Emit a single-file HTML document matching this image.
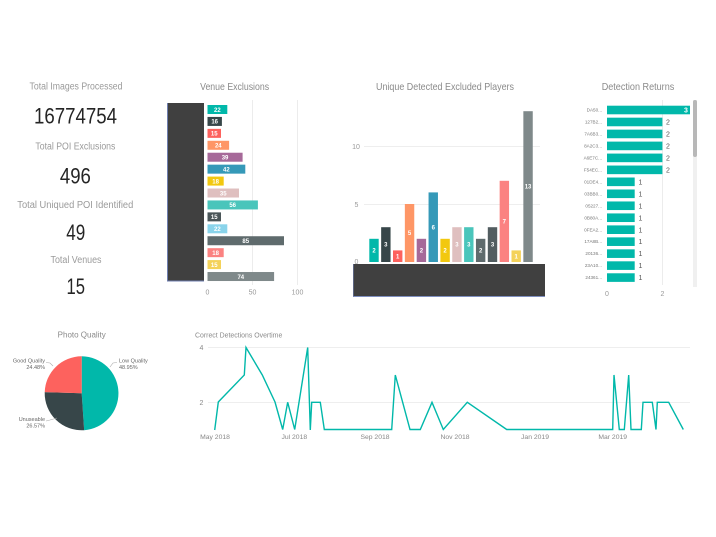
<!DOCTYPE html>
<html><head><meta charset="utf-8"><style>
html,body{margin:0;padding:0;background:#fff;}
svg{display:block;font-family:"Liberation Sans",sans-serif;}
</style></head><body>
<svg width="716" height="537" viewBox="0 0 716 537" xmlns="http://www.w3.org/2000/svg">
<rect width="716" height="537" fill="#fff"/>

<!-- KPI cards -->
<g fill="#9a9a9a" font-size="10" text-anchor="middle">
<text x="76" y="89.5" textLength="93" lengthAdjust="spacingAndGlyphs">Total Images Processed</text>
<text x="75.4" y="149.5" textLength="80" lengthAdjust="spacingAndGlyphs">Total POI Exclusions</text>
<text x="75.3" y="208" textLength="116" lengthAdjust="spacingAndGlyphs">Total Uniqued POI Identified</text>
<text x="76" y="263" textLength="51" lengthAdjust="spacingAndGlyphs">Total Venues</text>
</g>
<g fill="#252525" font-size="22" text-anchor="middle">
<text x="75.5" y="123.5" textLength="83" lengthAdjust="spacingAndGlyphs">16774754</text>
<text x="75.4" y="183.3" textLength="31" lengthAdjust="spacingAndGlyphs">496</text>
<text x="75.8" y="240" textLength="19" lengthAdjust="spacingAndGlyphs">49</text>
<text x="75.8" y="294" textLength="18.5" lengthAdjust="spacingAndGlyphs">15</text>
</g>

<!-- Titles -->
<g fill="#8a8a8a" font-size="10.5" text-anchor="middle">
<text x="234.6" y="90" textLength="69" lengthAdjust="spacingAndGlyphs">Venue Exclusions</text>
<text x="445" y="90" textLength="138" lengthAdjust="spacingAndGlyphs">Unique Detected Excluded Players</text>
<text x="638" y="90" textLength="72.6" lengthAdjust="spacingAndGlyphs">Detection Returns</text>
</g>

<!-- Venue Exclusions -->
<g stroke="#ececec" stroke-width="1">
<line x1="252.5" y1="100" x2="252.5" y2="285"/>
<line x1="297.5" y1="100" x2="297.5" y2="285"/>
</g>
<rect x="167" y="103" width="37" height="178" fill="#404040"/>
<line x1="167.5" y1="103" x2="167.5" y2="281" stroke="#6f7fb0" stroke-width="1"/>
<line x1="167" y1="281" x2="204" y2="281" stroke="#6f7fb0" stroke-width="1"/>
<g>
<rect x="207.5" y="105" width="19.8" height="9" fill="#01B8AA"/>
<rect x="207.5" y="116.93" width="14.4" height="9" fill="#374649"/>
<rect x="207.5" y="128.86" width="13.5" height="9" fill="#FD625E"/>
<rect x="207.5" y="140.79" width="21.6" height="9" fill="#FE9666"/>
<rect x="207.5" y="152.72" width="35.1" height="9" fill="#A66999"/>
<rect x="207.5" y="164.65" width="37.8" height="9" fill="#3599B8"/>
<rect x="207.5" y="176.58" width="16.2" height="9" fill="#F2C80F"/>
<rect x="207.5" y="188.51" width="31.5" height="9" fill="#DFBFBF"/>
<rect x="207.5" y="200.44" width="50.4" height="9" fill="#4AC5BB"/>
<rect x="207.5" y="212.37" width="13.5" height="9" fill="#4A5558"/>
<rect x="207.5" y="224.3" width="19.8" height="9" fill="#8AD4EB"/>
<rect x="207.5" y="236.23" width="76.5" height="9" fill="#5F6B6D"/>
<rect x="207.5" y="248.16" width="16.2" height="9" fill="#FB8281"/>
<rect x="207.5" y="260.09" width="13.5" height="9" fill="#F4D25A"/>
<rect x="207.5" y="272.02" width="66.6" height="9" fill="#7F898A"/>
</g>
<g fill="#fff" font-size="6" font-weight="bold" text-anchor="middle">
<text x="217.4" y="111.8">22</text>
<text x="214.7" y="123.7">16</text>
<text x="214.25" y="135.6">15</text>
<text x="218.3" y="147.6">24</text>
<text x="225.05" y="159.5">39</text>
<text x="226.4" y="171.4">42</text>
<text x="215.6" y="183.4">18</text>
<text x="223.25" y="195.3">35</text>
<text x="232.7" y="207.2">56</text>
<text x="214.25" y="219.2">15</text>
<text x="217.4" y="231.1">22</text>
<text x="245.75" y="243">85</text>
<text x="215.6" y="254.9">18</text>
<text x="214.25" y="266.9">15</text>
<text x="240.8" y="278.8">74</text>
</g>
<g fill="#999" font-size="7" text-anchor="middle">
<text x="207.5" y="294.5">0</text>
<text x="252.5" y="294.5">50</text>
<text x="297.5" y="294.5">100</text>
</g>

<!-- Unique Detected Excluded Players -->
<g stroke="#eeeeee" stroke-width="1">
<line x1="364" y1="146.5" x2="540" y2="146.5"/>
<line x1="364" y1="204.5" x2="540" y2="204.5"/>
</g>
<g fill="#999" font-size="7" text-anchor="middle">
<text x="356" y="149">10</text>
<text x="356.5" y="207">5</text>
<text x="356.5" y="264">0</text>
</g>
<g>
<rect x="369.3" y="238.8" width="9.4" height="23.2" fill="#01B8AA"/>
<rect x="381.15" y="227.2" width="9.4" height="34.8" fill="#374649"/>
<rect x="393" y="250.4" width="9.4" height="11.6" fill="#FD625E"/>
<rect x="404.85" y="204" width="9.4" height="58" fill="#FE9666"/>
<rect x="416.7" y="238.8" width="9.4" height="23.2" fill="#A66999"/>
<rect x="428.55" y="192.4" width="9.4" height="69.6" fill="#3599B8"/>
<rect x="440.4" y="238.8" width="9.4" height="23.2" fill="#F2C80F"/>
<rect x="452.25" y="227.2" width="9.4" height="34.8" fill="#DFBFBF"/>
<rect x="464.1" y="227.2" width="9.4" height="34.8" fill="#4AC5BB"/>
<rect x="475.95" y="238.8" width="9.4" height="23.2" fill="#5F6B6D"/>
<rect x="487.8" y="227.2" width="9.4" height="34.8" fill="#525d60"/>
<rect x="499.65" y="180.8" width="9.4" height="81.2" fill="#FB8281"/>
<rect x="511.5" y="250.4" width="9.4" height="11.6" fill="#F4D25A"/>
<rect x="523.35" y="111.2" width="9.4" height="150.8" fill="#7F898A"/>
</g>
<g fill="#fff" font-size="6" font-weight="bold" text-anchor="middle">
<text x="374" y="252.5">2</text>
<text x="385.85" y="246.7">3</text>
<text x="397.7" y="258.3">1</text>
<text x="409.55" y="235.1">5</text>
<text x="421.4" y="252.5">2</text>
<text x="433.25" y="229.3">6</text>
<text x="445.1" y="252.5">2</text>
<text x="456.95" y="246.7">3</text>
<text x="468.8" y="246.7">3</text>
<text x="480.65" y="252.5">2</text>
<text x="492.5" y="246.7">3</text>
<text x="504.35" y="223.5">7</text>
<text x="516.2" y="258.3">1</text>
<text x="528.05" y="188.7">13</text>
</g>
<rect x="353" y="264" width="192" height="32.5" fill="#404040"/>
<line x1="353" y1="296.5" x2="545" y2="296.5" stroke="#7f8fc0" stroke-width="1"/>
<line x1="353.5" y1="264" x2="353.5" y2="297" stroke="#6f7fb0" stroke-width="0.6"/>

<!-- Detection Returns -->
<line x1="662.5" y1="100" x2="662.5" y2="285" stroke="#ececec" stroke-width="1"/>
<rect x="693" y="100" width="4" height="187" fill="#f0f0f0"/>
<rect x="693" y="100" width="4" height="57" rx="2" fill="#b8b8b8"/>
<g fill="#01B8AA">
<rect x="607" y="105.7" width="83" height="8.6"/>
<rect x="607" y="117.67" width="55.4" height="8.6"/>
<rect x="607" y="129.64" width="55.4" height="8.6"/>
<rect x="607" y="141.61" width="55.4" height="8.6"/>
<rect x="607" y="153.58" width="55.4" height="8.6"/>
<rect x="607" y="165.55" width="55.4" height="8.6"/>
<rect x="607" y="177.52" width="27.7" height="8.6"/>
<rect x="607" y="189.49" width="27.7" height="8.6"/>
<rect x="607" y="201.46" width="27.7" height="8.6"/>
<rect x="607" y="213.43" width="27.7" height="8.6"/>
<rect x="607" y="225.4" width="27.7" height="8.6"/>
<rect x="607" y="237.37" width="27.7" height="8.6"/>
<rect x="607" y="249.34" width="27.7" height="8.6"/>
<rect x="607" y="261.31" width="27.7" height="8.6"/>
<rect x="607" y="273.28" width="27.7" height="8.6"/>
</g>
<g fill="#777" font-size="4.6" text-anchor="end">
<text x="602" y="111.6">DA50...</text>
<text x="602" y="123.6">127B2...</text>
<text x="602" y="135.5">7A6B3...</text>
<text x="602" y="147.5">8A2C3...</text>
<text x="602" y="159.5">A6E7C...</text>
<text x="602" y="171.4">F54EC...</text>
<text x="602" y="183.4">01DE4...</text>
<text x="602" y="195.4">03BB0...</text>
<text x="602" y="207.3">05227...</text>
<text x="602" y="219.3">0B80A...</text>
<text x="602" y="231.3">0FEA2...</text>
<text x="602" y="243.2">17A8B...</text>
<text x="602" y="255.2">20136...</text>
<text x="602" y="267.2">23A10...</text>
<text x="602" y="279.1">24361...</text>
</g>
<text x="686" y="112.6" fill="#fff" font-size="7" font-weight="bold" text-anchor="middle">3</text>
<g fill="#555" font-size="7">
<text x="666" y="124.6">2</text>
<text x="666" y="136.5">2</text>
<text x="666" y="148.5">2</text>
<text x="666" y="160.5">2</text>
<text x="666" y="172.4">2</text>
<text x="638.5" y="184.4">1</text>
<text x="638.5" y="196.4">1</text>
<text x="638.5" y="208.3">1</text>
<text x="638.5" y="220.3">1</text>
<text x="638.5" y="232.3">1</text>
<text x="638.5" y="244.2">1</text>
<text x="638.5" y="256.2">1</text>
<text x="638.5" y="268.2">1</text>
<text x="638.5" y="280.1">1</text>
</g>
<g fill="#999" font-size="7" text-anchor="middle">
<text x="607" y="296">0</text>
<text x="662.4" y="296">2</text>
</g>

<!-- Photo Quality pie -->
<text x="81.7" y="337.5" fill="#8a8a8a" font-size="8" text-anchor="middle">Photo Quality</text>
<path d="M81.7,393.3 L81.7,356.3 A37,37 0 0 1 84.15,430.2 Z" fill="#01B8AA"/>
<path d="M81.7,393.3 L84.15,430.2 A37,37 0 0 1 44.72,392.07 Z" fill="#374649"/>
<path d="M81.7,393.3 L44.72,392.07 A37,37 0 0 1 81.7,356.3 Z" fill="#FD625E"/>
<g stroke="#aaa" stroke-width="0.6" fill="none">
<polyline points="46,362.5 50,363 53,366"/>
<polyline points="117,362.5 113,363 110,367"/>
<polyline points="46,421 50,420 57,418"/>
</g>
<g fill="#666" font-size="5.5">
<text x="45" y="362.5" text-anchor="end">Good Quality</text>
<text x="45" y="368.8" text-anchor="end">24.48%</text>
<text x="119" y="362.5">Low Quality</text>
<text x="119" y="368.8">48.95%</text>
<text x="45" y="421" text-anchor="end">Unuseable</text>
<text x="45" y="427.3" text-anchor="end">26.57%</text>
</g>

<!-- Correct Detections Overtime -->
<text x="195" y="337.5" fill="#8a8a8a" font-size="7.2" textLength="87.3" lengthAdjust="spacingAndGlyphs">Correct Detections Overtime</text>
<g stroke="#eeeeee" stroke-width="1">
<line x1="208" y1="347.5" x2="690" y2="347.5"/>
<line x1="208" y1="402.5" x2="690" y2="402.5"/>
</g>
<g fill="#888" font-size="7" text-anchor="middle">
<text x="201.5" y="350">4</text>
<text x="201.5" y="405">2</text>
</g>
<g fill="#888" font-size="6.8" text-anchor="middle">
<text x="215" y="439">May 2018</text>
<text x="294.3" y="439">Jul 2018</text>
<text x="375" y="439">Sep 2018</text>
<text x="455" y="439">Nov 2018</text>
<text x="535" y="439">Jan 2019</text>
<text x="612.7" y="439">Mar 2019</text>
</g>
<polyline fill="none" stroke="#01B8AA" stroke-width="1.4" stroke-linejoin="miter" points="214.7,430 218.3,402 244.3,375 246,347.5 262.3,375 275,402 282.7,429.5 287.7,402.3 294.7,429.5 307.7,347.5 310.3,430 311.7,402.3 320.3,402.3 324.3,429.5 391.7,429.5 395.3,375 410,429.5 420.3,429.5 432,402.3 443.3,429.5 467.3,402.3 506.7,429.5 612.7,429.5 614,375 619.3,429.5 624.3,429.5 628.7,375 631,429.5 641.3,429.5 643,402.3 652.3,402.3 656,429.5 657.3,402.3 668.7,402.3 683.3,429.5"/>
</svg>
</body></html>
